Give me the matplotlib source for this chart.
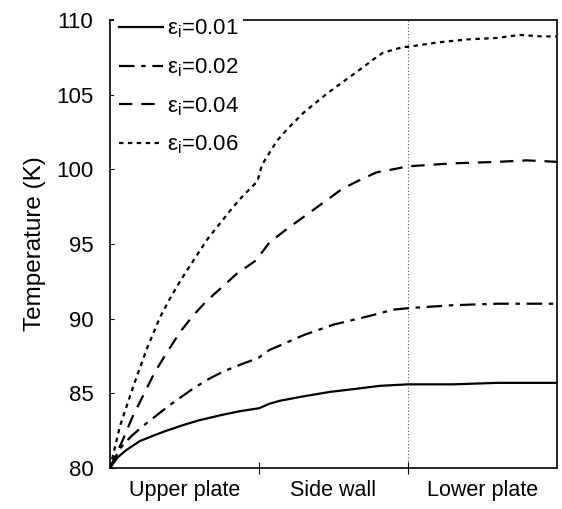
import matplotlib
matplotlib.use("Agg")
import matplotlib.pyplot as plt

plt.rcParams['font.family'] = ['Liberation Sans', 'DejaVu Sans']
plt.rcParams['mathtext.fontset'] = 'custom'
plt.rcParams['mathtext.rm'] = 'Liberation Sans'
plt.rcParams['mathtext.it'] = 'Liberation Sans'

# position along the surfaces: 0-1 upper plate, 1-2 side wall, 2-3 lower plate
u_001 = [0, 0.05, 0.11, 0.2, 0.3, 0.38, 0.5, 0.6, 0.75, 0.87, 1.0, 1.07, 1.14, 1.3, 1.48, 1.65, 1.81, 2.0, 2.3, 2.6, 3.0]
T_001 = [80, 80.7, 81.2, 81.8, 82.2, 82.5, 82.9, 83.2, 83.55, 83.8, 84.0, 84.3, 84.5, 84.8, 85.1, 85.3, 85.5, 85.6, 85.6, 85.7, 85.7]

u_002 = [0, 0.067, 0.14, 0.22, 0.31, 0.4, 0.47, 0.57, 0.67, 0.77, 0.87, 0.95, 1.0, 1.07, 1.14, 1.3, 1.5, 1.75, 1.9, 2.0, 2.3, 2.6, 3.0]
T_002 = [80, 81.3, 82.1, 82.8, 83.5, 84.2, 84.7, 85.4, 86.0, 86.5, 86.9, 87.2, 87.4, 87.9, 88.2, 88.9, 89.6, 90.2, 90.6, 90.7, 90.9, 91.0, 91.0]

u_004 = [0, 0.087, 0.15, 0.22, 0.3, 0.38, 0.47, 0.557, 0.65, 0.74, 0.85, 0.98, 1.01, 1.07, 1.2, 1.34, 1.45, 1.56, 1.68, 1.79, 1.9, 2.0, 2.3, 2.6, 2.8, 3.0]
T_004 = [80, 81.9, 83.4, 84.8, 86.4, 87.7, 89.1, 90.2, 91.2, 92.0, 93.0, 93.9, 94.3, 95.1, 96.1, 97.1, 97.9, 98.7, 99.3, 99.8, 100.0, 100.2, 100.4, 100.5, 100.6, 100.5]

u_006 = [0, 0.067, 0.154, 0.248, 0.336, 0.4, 0.47, 0.58, 0.66, 0.74, 0.82, 0.89, 0.99, 1.02, 1.12, 1.2, 1.3, 1.46, 1.57, 1.68, 1.76, 1.83, 1.9, 1.97, 2.0, 2.2, 2.4, 2.6, 2.75, 2.9, 3.0]
T_006 = [80, 82.8, 85.4, 88.0, 90.1, 91.3, 92.5, 94.2, 95.4, 96.4, 97.4, 98.2, 99.2, 100.3, 101.9, 102.8, 103.8, 105.1, 105.9, 106.7, 107.3, 107.8, 108.0, 108.2, 108.2, 108.5, 108.7, 108.8, 109.0, 108.9, 108.9]

labels = [r'$\mathregular{ε_i}$=0.01', r'$\mathregular{ε_i}$=0.02',
          r'$\mathregular{ε_i}$=0.04', r'$\mathregular{ε_i}$=0.06']
section_labels = ['Upper plate', 'Side wall', 'Lower plate']
section_centers = [0.5, 1.5, 2.5]
section_bounds = [1, 2]
yticks = [80, 85, 90, 95, 100, 105, 110]

fig = plt.figure(figsize=(5.62, 5.09), dpi=100)
ax = fig.add_axes([0.1957, 0.0806, 0.7953, 0.8801])

lw = 1.6
ax.plot(u_001, T_001, color='black', lw=lw, linestyle='-', label=labels[0])
ax.plot(u_002, T_002, color='black', lw=lw, linestyle=(0, (7, 3, 2, 3)), label=labels[1])
ax.plot(u_004, T_004, color='black', lw=lw, linestyle=(0, (6, 4)), label=labels[2])
ax.plot(u_006, T_006, color='black', lw=lw, linestyle=(0, (2, 2)), label=labels[3])

ax.axvline(2, color='#555555', lw=0.8, linestyle=(0, (1, 2)), zorder=1)

ax.set_xlim(0, 3)
ax.set_ylim(80, 110)
ax.set_yticks(yticks)
ax.tick_params(axis='y', direction='in', length=3, labelsize=16, pad=12)
ax.set_xticks(section_bounds)
ax.set_xticklabels([])
ax.tick_params(axis='x', which='major', direction='inout', length=8, width=0.8)
ax.set_xticks(section_centers, minor=True)
ax.set_xticklabels(section_labels, minor=True)
ax.tick_params(axis='x', which='minor', length=0, labelsize=15.5, pad=9)

ax.set_ylabel('Temperature (K)', fontsize=17.5, labelpad=7)

for s in ax.spines.values():
    s.set_linewidth(1.2)

leg = ax.legend(loc='upper left', bbox_to_anchor=(0.01, 1.015), frameon=True,
                fontsize=16, handlelength=2.0, handletextpad=0.15,
                labelspacing=0.72, borderpad=0.2, borderaxespad=0)
leg.get_frame().set_facecolor('white')
leg.get_frame().set_edgecolor('none')
leg.get_frame().set_alpha(1)

fig.savefig('out.png', dpi=100)
